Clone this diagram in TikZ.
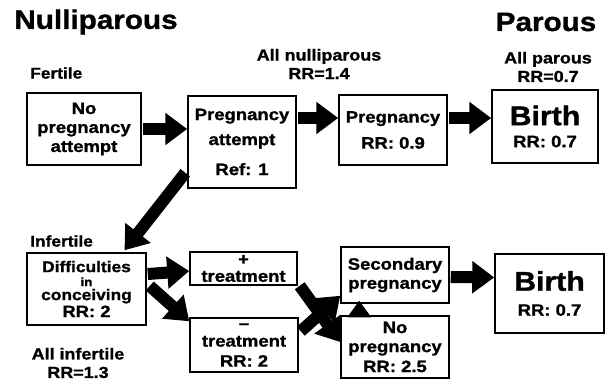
\documentclass[tikz,border=0pt]{standalone}
\usepackage{fontspec}
\setmainfont{Liberation Sans}[FakeStretch=1.12, BoldFeatures={FakeBold=1.2}]
\usetikzlibrary{arrows.meta,calc}
\tikzset{
  box/.style={draw, line width=1.5pt, inner sep=0pt, align=center,
    font=\bfseries\fontsize{16.5}{19}\selectfont},
  fat/.style={line width=12pt, -{Triangle[width=31pt,length=22pt]}},
  lbl/.style={font=\bfseries\fontsize{16}{18.5}\selectfont, align=center, inner sep=0pt},
  side/.style={font=\bfseries\fontsize{15.5}{18}\selectfont, inner sep=0pt, anchor=west},
  big/.style={font=\bfseries\fontsize{26.5}{30}\selectfont, inner sep=0pt},
}
\begin{document}
\begin{tikzpicture}[x=1pt,y=-1pt]
\useasboundingbox (0,0) rectangle (605,381);

% titles and labels
\node[big] (tnull) at (96,22) {Nulliparous};
\node[big] (tpar) at (546,22) {Parous};
\node[side] (fert) at (30,73) {Fertile};
\node[lbl] (allnull) at (319,64) {All nulliparous\\RR=1.4};
\node[lbl] (allpar) at (548,67) {All parous\\RR=0.7};
\node[side] (infert) at (30,241) {Infertile};
\node[lbl] (allinf) at (78,363) {All infertile\\RR=1.3};

% upper row
\node[box, minimum width=114pt, minimum height=72pt] (npa) at (84,129)
  {No\\pregnancy\\attempt};
\node[box, minimum width=108pt, minimum height=92pt] (pa) at (242,142)
  {Pregnancy\\[6pt]attempt\\[11pt]Ref: 1};
\node[box, minimum width=108pt, minimum height=70pt] (preg) at (393,130)
  {Pregnancy\\[7pt]RR: 0.9};
\node[box, minimum width=106pt, minimum height=73pt] (birthA) at (545,126.5)
  {{\fontsize{27}{30}\selectfont Birth}\\[3pt]RR: 0.7};

% lower row
\node[box, minimum width=119pt, minimum height=72pt] (diff) at (86.5,289)
  {{\fontsize{15.5}{13}\selectfont Difficulties}\\[-5pt]
   {\fontsize{12}{13}\selectfont in}\\[-5pt]
   {\fontsize{15.5}{13}\selectfont conceiving}\\[-2pt]
   RR: 2};
\node[box, minimum width=107pt, minimum height=33pt] (plus) at (243.5,268.5)
  {+\\[-2pt]treatment};
\node[box, minimum width=108pt, minimum height=54pt] (minus) at (244,345)
  {--\\[-1pt]treatment\\[1pt]RR: 2};
\node[box, minimum width=108pt, minimum height=56pt] (sec) at (395,275)
  {Secondary\\pregnancy};
\node[box, minimum width=108pt, minimum height=62pt] (nop) at (395,347)
  {No\\pregnancy\\[1pt]RR: 2.5};
\node[box, minimum width=109pt, minimum height=79pt] (birthB) at (549.5,293.5)
  {{\fontsize{27}{30}\selectfont Birth}\\[6pt]RR: 0.7};

% arrows
\draw[fat] ($(npa.east)+(1,0)$) -- (pa.west |- npa.east);
\draw[fat] ($(pa.east)+(1,-24)$) -- ($(preg.west)+(0,-12)$);
\draw[fat] ($(preg.east)+(1,-12)$) -- ($(birthA.west)+(0,-8.5)$);
\draw[fat] ($(pa.south west)+(-2,-16)$) -- ($(diff.north)+(38,-2)$);
\draw[fat] ($(diff.east)+(1,-15)$) -- ($(plus.west)+(0,2.5)$);
\draw[fat] ($(diff.east)+(3,-3)$) -- ($(minus.north west)+(0,4)$);
\draw[fat] ($(plus.south east)+(2,0)$) -- ($(nop.west)+(0,-5)$);
\draw[fat] ($(minus.north east)+(2,14)$) -- ($(sec.south west)+(0,-8)$);
\fill ($(nop.north west)+(7,2)$) -- ($(nop.north west)+(31,2)$)
      -- ($(sec.south west)+(19,-3)$) -- cycle;
\draw[fat] ($(sec.east)+(1,2)$) -- ($(birthB.west)+(0,-16)$);
\end{tikzpicture}
\end{document}
